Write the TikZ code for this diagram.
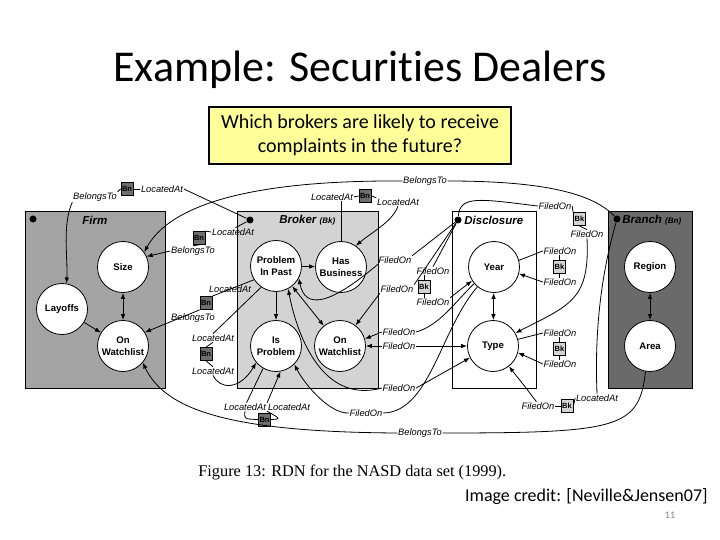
\documentclass[tikz,border=0pt]{standalone}
\usepackage{fontspec}
\setmainfont{Liberation Sans}
\newfontfamily\calfont[Ligatures={NoCommon,NoDiscretionary}]{Carlito}
\newfontfamily\serffont{Liberation Serif}
\usetikzlibrary{arrows.meta}
\definecolor{firmgray}{HTML}{A4A4A4}
\definecolor{brokergray}{HTML}{D3D3D3}
\definecolor{branchgray}{HTML}{6A6A6A}
\definecolor{bngray}{HTML}{6E6E6E}
\definecolor{bkgray}{HTML}{D4D4D4}
\definecolor{qyellow}{HTML}{FFFF99}
\begin{document}
\begin{tikzpicture}[x=1pt,y=-1pt,line width=0.8pt,
  var/.style={circle,draw,fill=white,minimum size=51pt,inner sep=0pt,align=center,font=\fontsize{9.6}{11.5}\selectfont\bfseries},
  rel/.style={inner sep=0.5pt,font=\fontsize{9.3}{9.3}\selectfont\itshape},
  bnbox/.style={draw,fill=bngray,minimum width=12pt,minimum height=13pt,inner sep=0pt,font=\fontsize{7.5}{7.5}\selectfont\bfseries},
  bkbox/.style={bnbox,fill=bkgray},
  dotn/.style={circle,fill=black,inner sep=0pt,minimum size=7pt},
  arr/.style={-{Latex[length=6pt,width=4.5pt]}},
  darr/.style={{Latex[length=6pt,width=4.5pt]}-{Latex[length=6pt,width=4.5pt]}},
  boxlab/.style={anchor=west,inner sep=0pt,font=\fontsize{11.5}{12}\selectfont\bfseries\itshape},
  entbox/.style={draw,minimum height=177pt,inner sep=0pt}
]
\useasboundingbox (0,0) rectangle (720,540);
\fill[white] (0,0) rectangle (720,540);

% title and question
\node[anchor=base,inner sep=0pt,font=\calfont\fontsize{44}{44}\selectfont] (title) at (360,82) {Example: Securit\kern0pt ies Dealers};
\node[draw,line width=1.6pt,fill=qyellow,minimum width=302pt,minimum height=57pt,align=center,
      font=\calfont\fontsize{20}{24}\selectfont] (question) at (360,135.5) {Which brokers are likely to receive\\complaints in the future?};

% entity boxes
\node[entbox,fill=firmgray,minimum width=140pt] (firm) at (95,299.5) {};
\node[entbox,fill=brokergray,minimum width=141pt] (broker) at (307.5,299.5) {};
\node[entbox,fill=white,minimum width=84pt] (disc) at (494,299.5) {};
\node[entbox,fill=branchgray,minimum width=84pt] (branch) at (650,299.5) {};

\node[boxlab] (firmlab) at (82,220) {Firm};
\node[boxlab] (brokerlab) at (279,220) {Broker {\fontsize{8}{8}\selectfont(Bk)}};
\node[boxlab] (disclab) at (464,220) {Disclosure};
\node[boxlab] (branchlab) at (622,220) {Branch {\fontsize{8}{8}\selectfont(Bn)}};

\node[dotn] (firmdot) at (33,219) {};
\node[dotn] (brokerdot) at (250,220) {};
\node[dotn] (discdot) at (458,220) {};
\node[dotn] (branchdot) at (617,219) {};

% variables
\node[var] (size) at (123,267) {Size};
\node[var] (layoffs) at (62,309) {Layoffs};
\node[var] (fwatch) at (123,346) {On\\Watchlist};
\node[var] (pip) at (276,266) {Problem\\In Past};
\node[var] (hasb) at (341,267) {Has\\Business};
\node[var] (isprob) at (276,346) {Is\\Problem};
\node[var] (bwatch) at (340,346) {On\\Watchlist};
\node[var] (year) at (494,267) {Year};
\node[var] (type) at (493,346) {Type};
\node[var] (region) at (650,267) {Region};
\node[var] (area) at (650,346) {Area};

% intra-entity dependencies
\draw[darr] (size) -- (fwatch);
\draw[arr] (layoffs) -- (fwatch);
\draw[arr] (pip) -- (hasb);
\draw[arr] (pip) -- (isprob);
\draw[darr] (pip) -- (bwatch);
\draw[darr] (year) -- (type);
\draw[darr] (region) -- (area);

% Broker -> Bn -> Layoffs
\node[rel] (l1) at (95,197) {BelongsTo};
\node[bnbox] (b1) at (127,189) {Bn};
\node[rel] (l2) at (162,189) {LocatedAt};
\draw (brokerdot) -- (l2.east);
\draw (l2.west) -- (b1.east);
\draw (b1.west) -- (l1.north east);
\draw[arr] (l1.south west) .. controls (62,225) and (68,258) .. (layoffs.80);

% Branch -> Size
\node[rel] (l5) at (425,181) {BelongsTo};
\draw (branchdot) .. controls (590,190) and (530,181) .. (l5.east);
\draw[arr] (l5.west) .. controls (250,180) and (170,205) .. (size.35);

% Broker -> Bn -> Size
\node[rel] (l3) at (233,232) {LocatedAt};
\node[bnbox] (b2) at (199,238) {Bn};
\node[rel] (l4) at (193,251) {BelongsTo};
\draw (brokerdot) -- (l3.60);
\draw (l3.west) -- (b2.north east);
\draw (b2.south) -- (l4.north);
\draw[arr] (l4.west) -- (size.24);

% Has Business self loop
\node[rel] (l6) at (332,197) {LocatedAt};
\node[bnbox] (b3) at (365,196) {Bn};
\node[rel] (l7) at (398,202) {LocatedAt};
\draw (hasb.north) -- (hasb.north |- l6.south);
\draw (l6.east) -- (b3.west);
\draw (b3.east) -- (l7.north west);
\draw[arr] (l7.south) .. controls (392,222) and (372,232) .. (hasb.55);

% Problem In Past -> Bn -> Firm On Watchlist
\node[rel] (l8) at (230,289) {LocatedAt};
\node[bnbox] (b4) at (206,303) {Bn};
\node[rel] (l9) at (193,318) {BelongsTo};
\draw (pip.212) -- (b4.north east);
\draw[arr] (b4.south west) -- (fwatch.32);

% Problem In Past -> Bn -> Is Problem
\node[rel] (l10) at (213,338) {LocatedAt};
\node[bnbox] (b5) at (206,354) {Bn};
\node[rel] (l11) at (213,371) {LocatedAt};
\draw (pip.235) -- (l10.north);
\draw (l10.south) -- (b5.north);
\draw (b5.south) -- (l11.north);
\draw[arr] (l11.south) .. controls (220,390) and (240,390) .. (isprob.220);

% Is Problem self loop
\node[rel] (l12) at (245,407) {LocatedAt};
\node[bnbox] (b6) at (264.5,419.5) {Bn};
\node[rel] (l13) at (289,407) {LocatedAt};
\draw (isprob.240) -- (l12.70);
\draw (l12.south) .. controls (244,419) .. (b6.west);
\draw (b6.east) .. controls (281,419) .. (l13.south west);
\draw[arr] (l13.north west) -- (isprob.-80);

% Area -> Firm On Watchlist
\node[rel] (l14) at (420,433) {BelongsTo};
\draw (area.-100) .. controls (639,428) and (620,433) .. (l14.east);
\draw[arr] (l14.west) .. controls (230,432) and (165,410) .. (fwatch.-40);

% Disclosure -> Broker
\node[rel] (l15) at (395,260) {FiledOn};
\draw (discdot) -- (l15.north east);
\draw[arr] (l15.south west) .. controls (330,305) and (305,310) .. (pip.-28);
\node[rel] (l16) at (397,289) {FiledOn};
\draw (discdot) -- (l16.north east);
\draw[arr] (l16.south west) -- (bwatch.53);

% Disclosure -> Bk -> Year
\node[rel] (l17) at (433,271) {FiledOn};
\node[bkbox] (b7) at (424,286.5) {Bk};
\node[rel] (l18) at (433,302) {FiledOn};
\draw (discdot) -- (l17.north);
\draw (b7.north) -- (b7.north |- l17.south);
\draw (b7.south) -- (b7.south |- l18.north);
\draw[arr] (l18.north east) -- (year.212);

% Year -> Broker On Watchlist
\node[rel] (l19) at (399,332) {FiledOn};
\draw[arr] (l19.west) -- (bwatch.16);
\draw (l19.east) .. controls (440,325) and (455,302) .. (year.220);

% Broker On Watchlist <-> Type
\node[rel] (l20) at (399,346) {FiledOn};
\draw[arr] (l20.west) -- (bwatch.east);
\draw[arr] (l20.east) -- (type.west);

% Problem In Past <-> Type
\node[rel] (l21) at (399,388) {FiledOn};
\draw[arr] (l21.west) .. controls (320,405) and (296,330) .. (pip.-62);
\draw[arr] (l21.east) -- (type.207);

% Year -> Is Problem
\node[rel] (l22) at (366,413) {FiledOn};
\draw (l22.east) .. controls (430,412) and (440,330) .. (year.230);
\draw[arr] (l22.west) .. controls (330,414) and (305,385) .. (isprob.-45);

% Disclosure -> Bk -> Type
\node[rel] (l23) at (555,206) {FiledOn};
\node[bkbox] (b8) at (579.5,219) {Bk};
\node[rel] (l24) at (587,234) {FiledOn};
\draw (discdot) .. controls (460,195) and (480,199) .. (l23.west);
\draw (l23.east) -- (b8.north west);
\draw (b8.south) -- (l24.north);
\draw[arr] (l24.south) .. controls (590,300) and (570,305) .. (type.30);

% Year self loop
\node[rel] (l25) at (560,251) {FiledOn};
\node[bkbox] (b9) at (559.5,266.5) {Bk};
\node[rel] (l26) at (560,282) {FiledOn};
\draw (year.15) -- (l25.west);
\draw (b9.north) -- (b9.north |- l25.south);
\draw (b9.south) -- (b9.south |- l26.north);
\draw[arr] (l26.west) -- (year.-15);

% Type self loop
\node[rel] (l27) at (560,333) {FiledOn};
\node[bkbox] (b10) at (559.5,349) {Bk};
\node[rel] (l28) at (560,364) {FiledOn};
\draw (type.15) -- (l27.west);
\draw (b10.north) -- (b10.north |- l27.south);
\draw (b10.south) -- (b10.south |- l28.north);
\draw[arr] (l28.west) -- (type.-15);

% Branch -> Bk -> Type
\node[rel] (l29) at (538,406) {FiledOn};
\node[bkbox] (b11) at (567,406) {Bk};
\node[rel] (l30) at (597,398) {LocatedAt};
\draw (branchdot) .. controls (604,265) and (594,320) .. (l30.north);
\draw (l30.west) -- (b11.east);
\draw (b11.west) -- (l29.east);
\draw[arr] (l29.110) .. controls (526,388) .. (type.-52);

% caption and footer
\node[anchor=base west,inner sep=0pt,font=\serffont\fontsize{16.3}{17}\selectfont] (caption) at (198,476) {Figure 13: RDN for the NASD data set (1999).};
\node[anchor=base east,inner sep=0pt,font=\calfont\fontsize{18}{18}\selectfont] (credit) at (708,501) {Image credit: [Neville\&Jensen07]};
\node[inner sep=0pt,text=gray,font=\calfont\fontsize{10}{10}\selectfont] (pagenum) at (670,515) {11};
\end{tikzpicture}
\end{document}
